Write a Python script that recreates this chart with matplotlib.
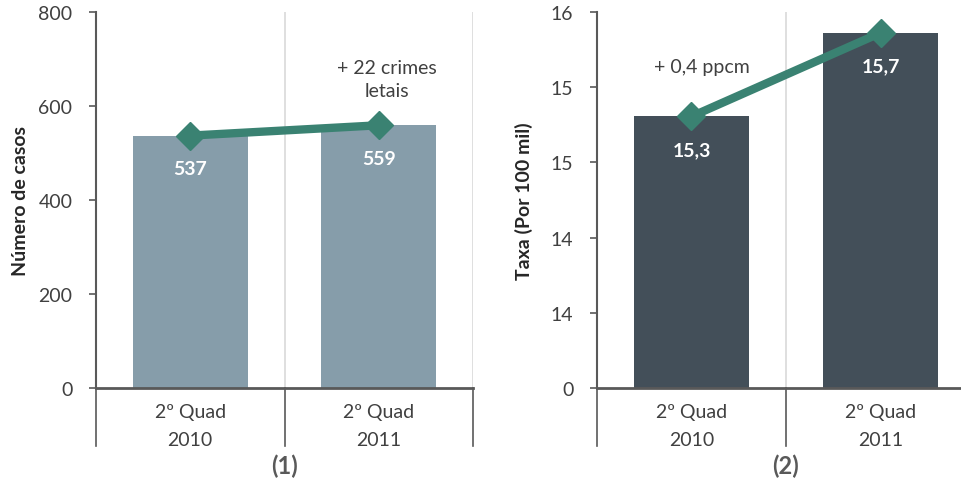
import matplotlib
matplotlib.use("Agg")
import matplotlib.pyplot as plt
import matplotlib.transforms as mtransforms

plt.rcParams['font.family'] = ['Lato', 'DejaVu Sans']

# Data
periods = ["2º Quad", "2º Quad"]
years = ["2010", "2011"]
cases = [537, 559]
case_labels = ["537", "559"]
case_ticks = [0, 200, 400, 600, 800]
case_tick_labels = ["0", "200", "400", "600", "800"]
case_note = "+ 22 crimes\nletais"

rates = [15.3, 15.7]
rate_labels = ["15,3", "15,7"]
rate_ticks = [14.0, 14.36, 14.72, 15.08, 15.44, 15.8]
rate_tick_labels = ["0", "14", "14", "15", "15", "16"]
rate_note = "+ 0,4 ppcm"

TXT = "#404040"
AX = "#595959"
GRID = "#D9D9D9"
LINE = "#3A8272"
FS = 14

fig = plt.figure(figsize=(9.62, 4.81), dpi=100)


def panel(rect, values, labels, ticks, tick_labels, ylim, bar_color, ylabel,
          label_x, tag):
    ax = fig.add_axes(rect)
    x = list(range(len(values)))
    ax.bar(x, values, width=0.61, color=bar_color, zorder=2)
    ax.plot(x, values, color=LINE, lw=6, marker="D", ms=14, mec=LINE,
            mfc=LINE, zorder=4, solid_capstyle="butt")
    for xi, v, lab in zip(x, values, labels):
        ax.annotate(lab, (xi, v), xytext=(0, -24), textcoords="offset points",
                    ha="center", va="center", color="white",
                    fontsize=FS, fontweight="bold", zorder=5)
    ax.set_xlim(-0.5, len(values) - 0.5)
    ax.set_ylim(*ylim)
    ax.set_yticks(ticks)
    ax.set_yticklabels(tick_labels, fontsize=FS, color=TXT)
    ax.set_xticks([])
    for s in ("top", "right"):
        ax.spines[s].set_visible(False)
    ax.spines["left"].set_color(AX)
    ax.spines["left"].set_linewidth(1.5)
    ax.spines["bottom"].set_color(AX)
    ax.spines["bottom"].set_linewidth(2)
    ax.tick_params(axis="y", length=5, width=1.2, color=AX, pad=12, direction="out")
    # light vertical grid at category boundaries
    for b in [i + 0.5 for i in range(len(values))]:
        ax.axvline(b, color=GRID, lw=1.2, zorder=1)
    # category separators below the axis
    tr = mtransforms.blended_transform_factory(ax.transData, ax.transAxes)
    for b in [i - 0.5 for i in range(len(values) + 1)]:
        ax.plot([b, b], [0, -0.155], transform=tr, color=AX, lw=1.2,
                clip_on=False, zorder=3)
    for xi, p, yr in zip(x, periods, years):
        ax.text(xi, -0.062, p, transform=tr, ha="center", va="center",
                fontsize=FS, color=TXT)
        ax.text(xi, -0.137, yr, transform=tr, ha="center", va="center",
                fontsize=FS, color=TXT)
    ax.text(0.5, -0.205, tag, transform=tr, ha="center", va="center",
            fontsize=17, fontweight="bold", color=AX)
    ax.set_ylabel(ylabel, fontsize=FS, fontweight="bold", color="#262626")
    ax.yaxis.set_label_coords(label_x, 0.5)
    return ax


ax1 = panel([96 / 962, 92 / 481, 377 / 962, 376 / 481], cases, case_labels,
            case_ticks, case_tick_labels, (0, 800), "#869DAA",
            "Número de casos", -0.178, "(1)")
ax1.text(1.044, 657, case_note, ha="center", va="center", fontsize=FS,
         color=TXT, linespacing=1.45)

ax2 = panel([597 / 962, 92 / 481, 378 / 962, 376 / 481], rates, rate_labels,
            rate_ticks, rate_tick_labels, (rate_ticks[0], rate_ticks[-1]),
            "#434F59", "Taxa (Por 100 mil)", -0.170, "(2)")
ax2.text(0.056, 15.537, rate_note, ha="center", va="center", fontsize=FS,
         color=TXT)

fig.savefig("out.png", dpi=100)
